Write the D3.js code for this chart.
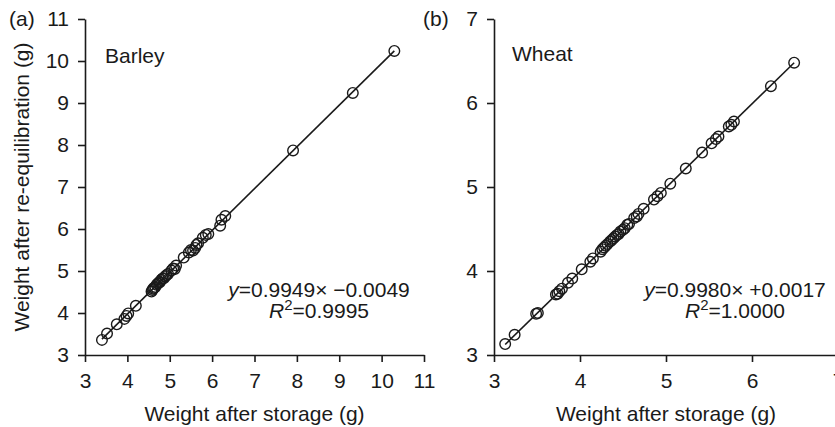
<!DOCTYPE html>
<html>
<head>
<meta charset="utf-8">
<script src="https://cdn.jsdelivr.net/npm/d3@7"></script>
<style>
  body { margin: 0; background: #fff; }
  svg { display: block; font-family: "Liberation Sans", Arial, Helvetica, sans-serif; }
  .axis path, .axis line { stroke: #1a1a1a; stroke-width: 1.6px; }
  .axis text { font-size: 21px; fill: #1a1a1a; font-family: "Liberation Sans", Arial, sans-serif; }
</style>
</head>
<body>
<div class="container"></div>
<script>
// data
const barleyX = [3.40, 3.52, 3.75, 3.93, 3.98, 4.02, 4.20,
  4.57, 4.59, 4.61, 4.63, 4.66, 4.69, 4.72, 4.75, 4.77, 4.80, 4.83, 4.86, 4.89, 4.92, 4.96,
  5.04, 5.08, 5.12, 5.15, 5.33, 5.45, 5.50, 5.55, 5.60, 5.63, 5.67,
  5.78, 5.85, 5.91, 6.19, 6.22, 6.31, 7.91, 9.32, 10.30];
const barleyY = [3.36, 3.51, 3.73, 3.86, 3.93, 3.99, 4.17,
  4.51, 4.55, 4.58, 4.60, 4.62, 4.67, 4.70, 4.73, 4.74, 4.79, 4.82, 4.83, 4.87, 4.90, 4.93,
  5.01, 5.06, 5.05, 5.13, 5.32, 5.44, 5.50, 5.49, 5.55, 5.62, 5.66,
  5.79, 5.86, 5.88, 6.08, 6.22, 6.31, 7.87, 9.24, 10.24];

const wheatX = [3.13, 3.24, 3.49, 3.51, 3.72, 3.74, 3.76, 3.79, 3.86, 3.91,
  4.02, 4.12, 4.15,
  4.24, 4.26, 4.28, 4.30, 4.32, 4.35, 4.37, 4.39, 4.41, 4.43, 4.45, 4.47, 4.50, 4.52, 4.55, 4.57,
  4.63, 4.66, 4.68, 4.74, 4.86, 4.90, 4.94, 5.05, 5.23, 5.42,
  5.53, 5.58, 5.61, 5.73, 5.76, 5.79, 6.22, 6.49];
const wheatY = [3.13, 3.24, 3.49, 3.50, 3.72, 3.73, 3.76, 3.79, 3.86, 3.91,
  4.02, 4.11, 4.15,
  4.23, 4.26, 4.28, 4.30, 4.32, 4.35, 4.37, 4.39, 4.41, 4.43, 4.44, 4.47, 4.49, 4.51, 4.55, 4.56,
  4.63, 4.65, 4.68, 4.74, 4.85, 4.89, 4.93, 5.04, 5.22, 5.41,
  5.52, 5.57, 5.60, 5.72, 5.74, 5.78, 6.20, 6.48];

const barleyTicksX = [3, 4, 5, 6, 7, 8, 9, 10, 11];
const barleyTicksY = [3, 4, 5, 6, 7, 8, 9, 10, 11];
const wheatTicksX = [3, 4, 5, 6, 7];
const wheatTicksY = [3, 4, 5, 6, 7];

const barleyFit = { slope: 0.9949, intercept: -0.0049, sign: '\u22120.0049', r2: '0.9995' };
const wheatFit = { slope: 0.9980, intercept: 0.0017, sign: '+0.0017', r2: '1.0000' };

// config
const config = {
  svg: { width: 835, height: 427 },
  top: 19,
  bottom: 355,
  color: '#1a1a1a',
  markRadius: 5.3,
  font: 21,
};

const panels = [
  {
    tag: '(a)', name: 'Barley', xs: barleyX, ys: barleyY, fit: barleyFit,
    ticksX: barleyTicksX, ticksY: barleyTicksY,
    left: 85, right: 424, tagX: 9, nameX: 105, nameY: 63, eqX: 319,
    yLabel: 'Weight after re-equilibration (g)',
  },
  {
    tag: '(b)', name: 'Wheat', xs: wheatX, ys: wheatY, fit: wheatFit,
    ticksX: wheatTicksX, ticksY: wheatTicksY,
    left: 494, right: 838, tagX: 423, nameX: 512, nameY: 61, eqX: 735,
    yLabel: null,
  },
];

let svg = d3.select('.container')
  .append('svg')
  .attr('width', config.svg.width)
  .attr('height', config.svg.height);

panels.forEach((p) => {
  let x = d3.scaleLinear()
    .domain(d3.extent(p.ticksX))
    .range([p.left, p.right]);
  let y = d3.scaleLinear()
    .domain(d3.extent(p.ticksY))
    .range([config.bottom, config.top]);

  let g = svg.append('g');

  // axes
  g.append('g')
    .attr('class', 'axis')
    .attr('transform', `translate(0,${config.bottom})`)
    .call(d3.axisBottom(x).tickValues(p.ticksX).tickFormat(d3.format('d'))
      .tickSize(7).tickSizeOuter(0).tickPadding(11));

  g.append('g')
    .attr('class', 'axis')
    .attr('transform', `translate(${p.left},0)`)
    .call(d3.axisLeft(y).tickValues(p.ticksY).tickFormat(d3.format('d'))
      .tickSize(7).tickSizeOuter(0).tickPadding(9));

  // fit line across the data range
  let ext = d3.extent(p.xs);
  g.append('path')
    .datum(ext.map((v) => [v, p.fit.slope * v + p.fit.intercept]))
    .attr('d', d3.line().x((d) => x(d[0])).y((d) => y(d[1])))
    .style('fill', 'none')
    .style('stroke', config.color)
    .style('stroke-width', 1.6);

  // points
  g.selectAll('circle')
    .data(p.xs.map((v, i) => [v, p.ys[i]]))
    .enter().append('circle')
    .attr('cx', (d) => x(d[0]))
    .attr('cy', (d) => y(d[1]))
    .attr('r', config.markRadius)
    .style('fill', 'none')
    .style('stroke', config.color)
    .style('stroke-width', 1.4);

  // labels
  g.append('text')
    .attr('x', p.tagX)
    .attr('y', 26)
    .style('font-size', `${config.font}px`)
    .style('fill', config.color)
    .text(p.tag);

  g.append('text')
    .attr('x', p.nameX)
    .attr('y', p.nameY)
    .style('font-size', `${config.font}px`)
    .style('fill', config.color)
    .text(p.name);

  g.append('text')
    .attr('x', (p.left + p.right) / 2)
    .attr('y', 421)
    .attr('text-anchor', 'middle')
    .style('font-size', `${config.font}px`)
    .style('fill', config.color)
    .text('Weight after storage (g)');

  if (p.yLabel) {
    g.append('text')
      .attr('transform', `translate(29,${(config.top + config.bottom) / 2}) rotate(-90)`)
      .attr('text-anchor', 'middle')
      .style('font-size', `${config.font}px`)
      .style('fill', config.color)
      .text(p.yLabel);
  }

  // equation
  let eq = g.append('text')
    .attr('x', p.eqX)
    .attr('y', 297)
    .attr('text-anchor', 'middle')
    .style('font-size', `${config.font}px`)
    .style('fill', config.color);
  eq.append('tspan').style('font-style', 'italic').text('y');
  eq.append('tspan').text(`=${p.fit.slope.toFixed(4)}\u00d7 ${p.fit.sign}`);

  let r2 = g.append('text')
    .attr('x', p.eqX)
    .attr('y', 318)
    .attr('text-anchor', 'middle')
    .style('font-size', `${config.font}px`)
    .style('fill', config.color);
  r2.append('tspan').style('font-style', 'italic').text('R');
  r2.append('tspan').attr('dy', -8).style('font-size', '15px').text('2');
  r2.append('tspan').attr('dy', 8).text(`=${p.fit.r2}`);
});
</script>
</body>
</html>
